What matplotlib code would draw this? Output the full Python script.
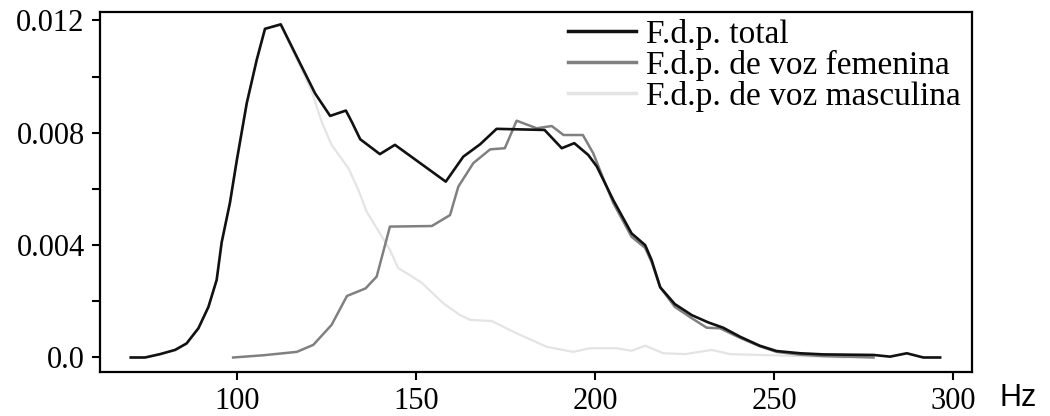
import numpy as np
import matplotlib
matplotlib.use("Agg")
import matplotlib.pyplot as plt
from matplotlib.ticker import FixedLocator, FuncFormatter

# Pitch distributions (Hz, probability density)
total_hz = [70.3, 74.3, 78.5, 82.7, 85.9, 89.2, 92.0, 94.3, 95.7, 98.0, 99.9,
            102.7, 105.5, 107.8, 112.2, 117.1, 121.8, 126.0, 130.4, 132.0,
            134.4, 139.9, 144.1, 158.3, 163.2, 167.9, 172.5, 185.9, 190.7,
            194.2, 198.1, 200.5, 205.1, 210.2, 214.0, 215.8, 218.2, 222.3,
            227.0, 231.6, 235.8, 240.5, 246.0, 250.7, 257.3, 263.8, 277.8,
            282.4, 287.1, 291.7, 296.4]
total_pdf = [0.0, 0.0, 0.00012, 0.00027, 0.0005, 0.00104, 0.0018, 0.00276,
             0.0041, 0.0055, 0.0070, 0.00905, 0.0106, 0.0117, 0.01186, 0.0106,
             0.0094, 0.0086, 0.00879, 0.0084, 0.00777, 0.00724, 0.00757,
             0.00626, 0.00715, 0.00759, 0.00814, 0.0081, 0.00745, 0.00763,
             0.00721, 0.0068, 0.0056, 0.00442, 0.0040, 0.00347, 0.0025,
             0.0019, 0.00151, 0.00125, 0.00106, 0.00074, 0.00042, 0.00023,
             0.00015, 0.00011, 0.00009, 0.00003, 0.00015, 0.0, 0.0]

fem_hz = [98.9, 107.4, 116.7, 121.3, 126.4, 130.7, 135.9, 139.0, 142.7, 154.4,
          159.5, 161.8, 166.0, 170.7, 174.8, 178.1, 183.7, 187.9, 191.2, 196.6,
          199.5, 201.9, 205.1, 210.2, 214.0, 215.8, 218.2, 222.3, 227.0, 231.2,
          234.9, 240.5, 246.0, 250.7, 257.3, 263.8, 277.8]
fem_pdf = [0.0, 0.00008, 0.0002, 0.00045, 0.00116, 0.00219, 0.00246, 0.00288,
           0.00466, 0.00468, 0.00507, 0.00608, 0.00692, 0.00741, 0.00745,
           0.00843, 0.00816, 0.00824, 0.00792, 0.00792, 0.00727, 0.0065,
           0.0055, 0.0043, 0.0039, 0.0034, 0.0025, 0.0018, 0.0014, 0.00106,
           0.00104, 0.0007, 0.0004, 0.0002, 0.0001, 0.00005, 0.0]

male_hz = [70.3, 74.3, 78.5, 82.7, 85.9, 89.2, 92.0, 94.3, 95.7, 98.0, 99.9,
           102.7, 105.5, 107.8, 112.2, 117.1, 120.9, 123.6, 126.4, 131.1,
           133.9, 136.2, 139.9, 142.7, 145.0, 147.4, 151.6, 157.6, 162.3,
           165.1, 171.1, 178.1, 186.5, 193.9, 198.6, 206.0, 210.2, 214.0,
           219.1, 225.2, 232.6, 237.7, 246.0, 257.3, 270.0]
male_pdf = [0.0, 0.0, 0.00012, 0.00027, 0.0005, 0.00104, 0.0018, 0.00276,
            0.0041, 0.0055, 0.0070, 0.00905, 0.0106, 0.0117, 0.01183, 0.0105,
            0.00946, 0.0084, 0.00757, 0.00674, 0.00596, 0.00519, 0.00442,
            0.00383, 0.00318, 0.003, 0.00266, 0.00193, 0.00151, 0.00134,
            0.0013, 0.00086, 0.00038, 0.0002, 0.00033, 0.00033, 0.00024,
            0.00042, 0.00015, 0.00012, 0.00027, 0.00012, 0.00009, 0.00005,
            0.0]

labels = ["F.d.p. total", "F.d.p. de voz femenina", "F.d.p. de voz masculina"]
xticks = [100, 150, 200, 250, 300]
yticks = [0.0, 0.004, 0.008, 0.012]
yminor = [0.002, 0.006, 0.010]

serif = "Liberation Serif"

fig = plt.figure(figsize=(10.5, 4.16), dpi=100)
ax = fig.add_axes([0.0952, 0.1058, 0.8305, 0.8654])

l_male, = ax.plot(male_hz, male_pdf, color="#e4e4e4", lw=1.6)
l_fem, = ax.plot(fem_hz, fem_pdf, color="#808080", lw=1.8)
l_tot, = ax.plot(total_hz, total_pdf, color="#111111", lw=1.9)

ax.set_xlim(61.7, 305.3)
ax.set_ylim(-0.000516, 0.0123)

ax.xaxis.set_major_locator(FixedLocator(xticks))
ax.yaxis.set_major_locator(FixedLocator(yticks))
ax.yaxis.set_minor_locator(FixedLocator(yminor))
ax.yaxis.set_major_formatter(FuncFormatter(lambda v, p: "0.0" if v == 0 else f"{v:.3f}"))

for s in ax.spines.values():
    s.set_linewidth(1.6)
ax.tick_params(axis="both", which="both", direction="out", length=6, width=1.5,
               labelsize=22, pad=5)
for lab in ax.get_xticklabels() + ax.get_yticklabels():
    lab.set_family(serif)

leg = ax.legend([l_tot, l_fem, l_male], labels, loc="upper left",
                bbox_to_anchor=(0.533, 0.99), frameon=False,
                prop={"family": serif, "size": 24}, handlelength=2.04,
                handletextpad=0.3, labelspacing=0.0, borderpad=0.1,
                borderaxespad=0)
for h in leg.get_lines():
    h.set_linewidth(2.5)

fig.text(0.952, 0.043, "Hz", family="Liberation Sans", fontsize=22, va="center")

fig.savefig("out.png", dpi=100)
